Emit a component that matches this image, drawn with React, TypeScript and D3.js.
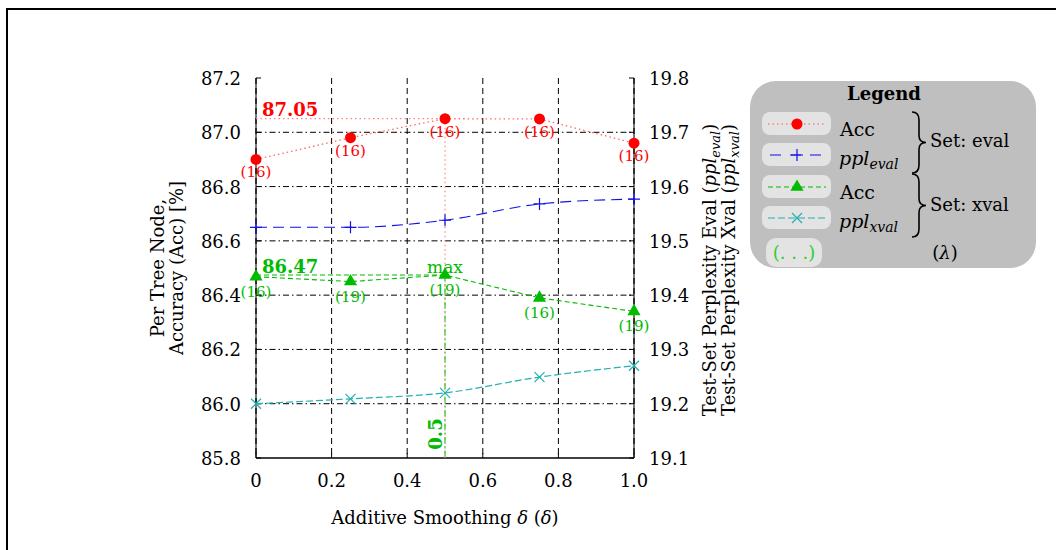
import React from 'react';
import * as d3 from 'd3';

// smoothing values on the x axis
const deltas = [0, 0.25, 0.5, 0.75, 1.0];
// per tree node accuracy [%], eval set and xval set
const accEval = [86.9, 86.98, 87.05, 87.049, 86.96];
const accEvalLambda = [16, 16, 16, 16, 16];
const accXval = [86.468, 86.45, 86.474, 86.39, 86.34];
const accXvalLambda = [16, 19, 19, 16, 19];
// test-set perplexities
const pplEval = [19.525, 19.525, 19.538, 19.568, 19.577];
const pplXval = [19.2, 19.209, 19.22, 19.249, 19.27];

const xTicks = [0, 0.2, 0.4, 0.6, 0.8, 1.0];
const yLeftTicks = [85.8, 86.0, 86.2, 86.4, 86.6, 86.8, 87.0, 87.2];
const yRightTicks = [19.1, 19.2, 19.3, 19.4, 19.5, 19.6, 19.7, 19.8];

const FONT = '"DejaVu Serif", "Liberation Serif", serif';
const FS = 18;
const RED = '#ff0000';
const BLUE = '#1010e8';
const GREEN = '#00bb00';
const CYAN = '#22b0b0';

function brace(x: number, y1: number, y2: number, w: number) {
    const ym = (y1 + y2) / 2;
    const h = w / 2;
    return `M${x},${y1} Q${x + h},${y1} ${x + h},${y1 + 8} L${x + h},${ym - 7} Q${x + h},${ym} ${x + w},${ym}` +
        ` Q${x + h},${ym} ${x + h},${ym + 7} L${x + h},${y2 - 8} Q${x + h},${y2} ${x},${y2}`;
}

export default function App() {
    const x = d3.scaleLinear().domain([0, 1]).range([256, 634]);
    const yL = d3.scaleLinear().domain([85.8, 87.2]).range([458, 78]);
    const yR = d3.scaleLinear().domain([19.1, 19.8]).range([458, 78]);
    const [x0, x1] = x.range();
    const [yb, yt] = yL.range();

    const redLine = d3.line<number>().x((_, i) => x(deltas[i])).y(d => yL(d))(accEval);
    const greenLine = d3.line<number>().x((_, i) => x(deltas[i])).y(d => yL(d))(accXval);
    const blueLine = d3.line<number>().x((_, i) => x(deltas[i])).y(d => yR(d)).curve(d3.curveMonotoneX)(pplEval);
    const cyanLine = d3.line<number>().x((_, i) => x(deltas[i])).y(d => yR(d)).curve(d3.curveMonotoneX)(pplXval);

    const redMaxI = d3.maxIndex(accEval);
    const redMax = accEval[redMaxI];
    const greenMaxI = d3.maxIndex(accXval);
    const greenMax = accXval[greenMaxI];

    const tri = d3.symbol(d3.symbolTriangle, 75)();

    return (
        <svg width={1056} height={550} style={{position: 'absolute', left: 0, top: 0, background: '#fff'}}
             fontFamily={FONT}>
            <rect x={7} y={9} width={1200} height={700} fill="none" stroke="#000" strokeWidth={2}/>

            {/* grid */}
            {yLeftTicks.filter(t => t > 85.85 && t < 87.15).map(t => (
                <line key={'h' + t} x1={x0} x2={x1} y1={yL(t)} y2={yL(t)} stroke="#000" strokeWidth={1}
                      strokeDasharray="6 3 1.5 3"/>
            ))}
            {xTicks.filter(t => t > 0 && t < 1).map(t => (
                <line key={'v' + t} x1={x(t)} x2={x(t)} y1={yt} y2={yb} stroke="#000" strokeWidth={1}
                      strokeDasharray="6 4"/>
            ))}

            {/* axes */}
            {[x0, x1].map(v => (
                <g key={'ax' + v}>
                    <line x1={v} x2={v} y1={yt} y2={yb} stroke="#777" strokeWidth={2}/>
                    <line x1={v} x2={v} y1={yt} y2={yb} stroke="#000" strokeWidth={1.2} strokeDasharray="6 4"/>
                </g>
            ))}
            <line x1={x0} x2={x1} y1={yb} y2={yb} stroke="#000" strokeWidth={1.5}/>
            {yLeftTicks.map(t => (
                <g key={'tl' + t}>
                    <line x1={x0} x2={x0 + 5} y1={yL(t)} y2={yL(t)} stroke="#000"/>
                    <text x={241} y={yL(t) + 7} textAnchor="end" fontSize={FS}>{t.toFixed(1)}</text>
                </g>
            ))}
            {yRightTicks.map(t => (
                <g key={'tr' + t}>
                    <line x1={x1 - 5} x2={x1} y1={yR(t)} y2={yR(t)} stroke="#000"/>
                    <text x={649} y={yR(t) + 7} fontSize={FS}>{t.toFixed(1)}</text>
                </g>
            ))}
            {xTicks.map(t => (
                <g key={'tx' + t}>
                    <line x1={x(t)} x2={x(t)} y1={yb - 5} y2={yb} stroke="#000"/>
                    <text x={x(t)} y={487} textAnchor="middle" fontSize={FS}>{t === 0 ? '0' : t.toFixed(1)}</text>
                </g>
            ))}

            {/* axis titles */}
            <text x={445} y={524} textAnchor="middle" fontSize={FS}>
                Additive Smoothing <tspan fontStyle="italic">δ</tspan> (<tspan fontStyle="italic">δ</tspan>)
            </text>
            <text transform="translate(164,268) rotate(-90)" textAnchor="middle" fontSize={FS}>Per Tree Node,</text>
            <text transform="translate(183,268) rotate(-90)" textAnchor="middle" fontSize={FS}>Accuracy (Acc) [%]</text>
            <text transform="translate(716,270) rotate(-90)" textAnchor="middle" fontSize={FS}>
                Test-Set Perplexity Eval (<tspan fontStyle="italic">ppl</tspan><tspan fontStyle="italic" fontSize={13}
                                                                                       dy={4}>eval</tspan><tspan dy={-4}>)</tspan>
            </text>
            <text transform="translate(735,270) rotate(-90)" textAnchor="middle" fontSize={FS}>
                Test-Set Perplexity Xval (<tspan fontStyle="italic">ppl</tspan><tspan fontStyle="italic" fontSize={13}
                                                                                       dy={4}>xval</tspan><tspan dy={-4}>)</tspan>
            </text>

            {/* max marker lines */}
            <line x1={x0} x2={x(deltas[redMaxI])} y1={yL(redMax)} y2={yL(redMax)} stroke="#ff8080"
                  strokeWidth={1.3} strokeDasharray="1.5 3"/>
            <line x1={x(deltas[redMaxI])} x2={x(deltas[redMaxI])} y1={yL(redMax)} y2={yb} stroke="#ff9090"
                  strokeWidth={1.3} strokeDasharray="1.5 3"/>
            <line x1={x0} x2={x(deltas[greenMaxI])} y1={yL(greenMax)} y2={yL(greenMax)} stroke={GREEN}
                  strokeWidth={1.1} strokeDasharray="5 3"/>
            <line x1={x(deltas[greenMaxI])} x2={x(deltas[greenMaxI])} y1={yL(greenMax)} y2={yb} stroke="#33cc33"
                  strokeWidth={1.3} strokeDasharray="6 3 1.5 3"/>

            {/* series */}
            <path d={redLine!} fill="none" stroke={RED} strokeOpacity={0.6} strokeWidth={1.3} strokeDasharray="1.5 3"/>
            <path d={blueLine!} fill="none" stroke={BLUE} strokeWidth={1.1} strokeDasharray="11 6"/>
            <path d={greenLine!} fill="none" stroke={GREEN} strokeWidth={1.1} strokeDasharray="5 3"/>
            <path d={cyanLine!} fill="none" stroke={CYAN} strokeWidth={1.2} strokeDasharray="7 3"/>

            {accEval.map((d, i) => (
                <g key={'r' + i}>
                    <circle cx={x(deltas[i])} cy={yL(d)} r={5.5} fill={RED}/>
                    <text x={x(deltas[i])} y={yL(d) + 18} textAnchor="middle" fontSize={15}
                          fill={RED}>({accEvalLambda[i]})</text>
                </g>
            ))}
            {pplEval.map((d, i) => (
                <path key={'b' + i} transform={`translate(${x(deltas[i])},${yR(d)})`} d="M-6,0H6M0,-6V6"
                      stroke={BLUE} strokeWidth={1.2}/>
            ))}
            {accXval.map((d, i) => (
                <g key={'g' + i}>
                    <path transform={`translate(${x(deltas[i])},${yL(d)})`} d={tri!} fill={GREEN}/>
                    <text x={x(deltas[i])} y={yL(d) + 20} textAnchor="middle" fontSize={15}
                          fill={GREEN}>({accXvalLambda[i]})</text>
                </g>
            ))}
            {pplXval.map((d, i) => (
                <path key={'c' + i} transform={`translate(${x(deltas[i])},${yR(d)})`}
                      d="M-5,-5L5,5M-5,5L5,-5" stroke={CYAN} strokeWidth={1.2}/>
            ))}

            {/* annotations */}
            <text x={262} y={116} fontSize={18} fontWeight="bold" fill={RED}>{redMax.toFixed(2)}</text>
            <text x={262} y={273} fontSize={18} fontWeight="bold" fill={GREEN}>{greenMax.toFixed(2)}</text>
            <text x={x(deltas[greenMaxI])} y={273} textAnchor="middle" fontSize={17} fill={GREEN}>max</text>
            <text transform={`translate(${x(deltas[greenMaxI]) - 3},434) rotate(-90)`} textAnchor="middle"
                  fontSize={18} fontWeight="bold" fill={GREEN}>{deltas[greenMaxI]}</text>

            {/* legend */}
            <rect x={750} y={81} width={286} height={187} rx={26} fill="#bfbfbf"/>
            <text x={884} y={100} textAnchor="middle" fontSize={FS} fontWeight="bold">Legend</text>
            {[124, 155, 187, 218].map(cy => (
                <rect key={'sw' + cy} x={762} y={cy - 12} width={69} height={23} rx={8} fill="#e3e3e3"/>
            ))}
            <line x1={768} x2={826} y1={124} y2={124} stroke={RED} strokeOpacity={0.6} strokeWidth={1.2}
                  strokeDasharray="1.5 3"/>
            <circle cx={797} cy={124} r={5.5} fill={RED}/>
            <line x1={768} x2={826} y1={155} y2={155} stroke={BLUE} strokeWidth={1.1} strokeDasharray="11 9"
                  strokeDashoffset={-2}/>
            <path transform="translate(797,155)" d="M-6,0H6M0,-6V6" stroke={BLUE} strokeWidth={1.2}/>
            <line x1={768} x2={826} y1={187} y2={187} stroke={GREEN} strokeWidth={1.1} strokeDasharray="5 3"/>
            <path transform="translate(797,187)" d={tri!} fill={GREEN}/>
            <line x1={768} x2={826} y1={218} y2={218} stroke={CYAN} strokeWidth={1.2} strokeDasharray="7 3"/>
            <path transform="translate(797,218)" d="M-5,-5L5,5M-5,5L5,-5" stroke={CYAN} strokeWidth={1.2}/>
            <text x={840} y={136} fontSize={FS + 1}>Acc</text>
            <text x={839} y={165} fontSize={FS + 1}><tspan fontStyle="italic">ppl</tspan><tspan fontStyle="italic"
                                                                                            fontSize={14}
                                                                                            dy={4}>eval</tspan></text>
            <text x={840} y={199} fontSize={FS + 1}>Acc</text>
            <text x={839} y={228} fontSize={FS + 1}><tspan fontStyle="italic">ppl</tspan><tspan fontStyle="italic"
                                                                                            fontSize={14}
                                                                                            dy={4}>xval</tspan></text>
            <path d={brace(912, 112, 173, 14)} fill="none" stroke="#000" strokeWidth={1.6}/>
            <path d={brace(912, 174, 237, 14)} fill="none" stroke="#000" strokeWidth={1.6}/>
            <text x={930} y={147} fontSize={FS}>Set: eval</text>
            <text x={930} y={211} fontSize={FS}>Set: xval</text>
            <rect x={766} y={238} width={56} height={29} rx={10} fill="#e3e3e3"/>
            <text x={794} y={259} textAnchor="middle" fontSize={FS} fill="#33cc33">(. . .)</text>
            <text x={945} y={259} textAnchor="middle" fontSize={FS}>(<tspan fontStyle="italic">λ</tspan>)</text>
        </svg>
    );
}
